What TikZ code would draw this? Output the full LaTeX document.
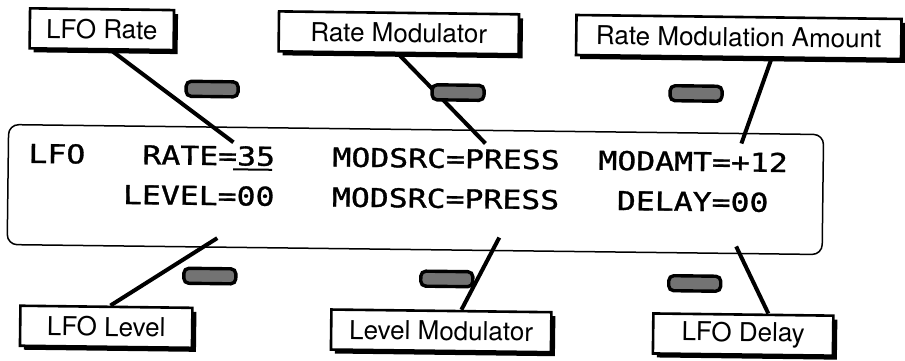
\documentclass[tikz,border=0pt]{standalone}
\usepackage{fontspec}
\usetikzlibrary{shadows}
\newfontfamily\heros{TeX Gyre Heros}
\newfontfamily\lcdfont[FakeStretch=1.21, FakeBold=1.2]{DejaVu Sans Mono}

\tikzset{
  callout/.style={draw, line width=2.6pt, fill=white, inner sep=0pt, minimum height=40pt,
    font=\heros\fontsize{26}{28}\selectfont,
    drop shadow={shadow xshift=4pt, shadow yshift=-4pt, fill=black, opacity=1}},
  knob/.style={draw, line width=3.4pt, fill=black!55, rounded corners=5pt,
    minimum width=52pt, minimum height=15pt, inner sep=0pt},
  lcd/.style={anchor=base west, inner sep=0pt, font=\lcdfont\fontsize{26}{28}\selectfont},
  pointer/.style={line width=4pt}
}

\begin{document}
\begin{tikzpicture}[x=1pt, y=-1pt]
  \useasboundingbox (0,0) rectangle (905,361);
  \begin{scope}[rotate around={-0.7:(452,180)}, transform shape]
  % Display
  \node[draw, line width=1.5pt, rounded corners=10pt, minimum width=815pt,
    minimum height=120pt] (display) at (415.5,190) {};
  \node[lcd] (lfo) at (28,168) {LFO};
  \node[lcd] (rate) at (142,168) {RATE=35};
  \node[lcd] (modsrcA) at (332,168) {MODSRC=PRESS};
  \node[lcd] (modamt) at (598,168) {MODAMT=+12};
  \node[lcd] (level) at (123,208) {LEVEL=00};
  \node[lcd] (modsrcB) at (332,208) {MODSRC=PRESS};
  \node[lcd] (delay) at (617,208) {DELAY=00};
  \draw[line width=2pt] ([xshift=-42pt, yshift=-4pt]rate.base east) -- ([xshift=-3pt, yshift=-4pt]rate.base east);

  % Labels
  \node[callout, minimum width=144pt] (lforate) at (100,33.5) {LFO Rate};
  \node[callout, minimum width=240pt] (ratemod) at (397,33.5) {Rate Modulator};
  \node[callout, minimum width=325pt] (rmamount) at (737,33.5) {Rate Modulation Amount};
  \node[callout, minimum width=172pt] (lfolevel) at (108,331) {LFO Level};
  \node[callout, minimum width=220pt] (levelmod) at (443,331) {Level Modulator};
  \node[callout, minimum width=180pt] (lfodelay) at (745,331) {LFO Delay};

  % Pointers
  \coordinate (ratetip) at (233,145);
  \coordinate (modsrctip) at (485,143);
  \coordinate (modamttip) at (741,140);
  \coordinate (leveltip) at (218,241);
  \coordinate (levelmodtip) at (500,237);
  \coordinate (delaytip) at (737,243);
  \draw[pointer] ([xshift=10pt]lforate.south) -- (ratetip);
  \draw[pointer] (ratemod.south) -- (modsrctip);
  \draw[pointer] ([xshift=33pt]rmamount.south) -- (modamttip);
  \draw[pointer] ([xshift=4pt]lfolevel.north) -- (leveltip);
  \draw[pointer] ([xshift=20pt]levelmod.north) -- (levelmodtip);
  \draw[pointer] ([xshift=25pt]lfodelay.north) -- (delaytip);

  % Keys
  \node[knob] (key1) at (211,92) {};
  \node[knob] (key2) at (457,92.5) {};
  \node[knob] (key3) at (695,90.5) {};
  \node[knob] (key4) at (211,279) {};
  \node[knob] (key5) at (448,279) {};
  \node[knob] (key6) at (696,280.5) {};
  \end{scope}
\end{tikzpicture}
\end{document}
